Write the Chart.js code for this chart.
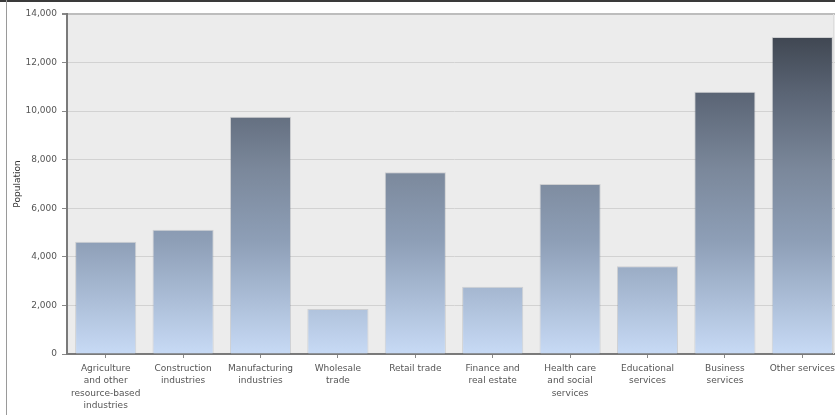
<!DOCTYPE html>
<html>
<head>
<meta charset="utf-8">
<script src="https://cdn.jsdelivr.net/npm/chart.js@4.4.0/dist/chart.umd.min.js"></script>
<style>
  html, body { margin: 0; padding: 0; background: #fff; overflow: hidden; }
  #frame {
    position: absolute; left: 0; top: 0; width: 835px; height: 415px;
    border-top: 2px solid #3a3a3a; box-sizing: border-box;
  }
  #leftline { position: absolute; left: 6px; top: 0; width: 1px; height: 415px; background: #9a9a9a; }
  #statsChart { position: absolute; left: 7px; top: 2px; }
</style>
</head>
<body>
<div id="frame"></div>
<div id="leftline"></div>
<canvas id="statsChart" width="836" height="413"></canvas>
<script>
// categories (multi-line labels as drawn under the axis)
const categories = [
    ['Agriculture', 'and other', 'resource-based', 'industries'],
    ['Construction', 'industries'],
    ['Manufacturing', 'industries'],
    ['Wholesale', 'trade'],
    ['Retail trade'],
    ['Finance and', 'real estate'],
    ['Health care', 'and social', 'services'],
    ['Educational', 'services'],
    ['Business', 'services'],
    ['Other services']
];
const population = [4620, 5120, 9770, 1850, 7480, 2770, 7000, 3610, 10800, 13050];
const yTicks = [0, 2000, 4000, 6000, 8000, 10000, 12000, 14000];
const yTitle = 'Population';

// gradient over the whole plot area, light blue at 0, dark slate at the top
function barGradient(context) {
    const chart = context.chart;
    const area = chart.chartArea;
    if (!area) return '#8fa0b8';
    const g = chart.ctx.createLinearGradient(0, area.bottom, 0, area.top);
    g.addColorStop(0, '#c7daf5');
    g.addColorStop(0.33, '#8e9fb7');
    g.addColorStop(0.55, '#7a879a');
    g.addColorStop(0.77, '#5a6474');
    g.addColorStop(1, '#353b44');
    return g;
}

const plotBg = {
    id: 'plotBg',
    beforeDraw(chart) {
        const a = chart.chartArea;
        const c = chart.ctx;
        c.save();
        c.fillStyle = '#ececec';
        c.fillRect(a.left, a.top, a.right - a.left, a.bottom - a.top);
        c.restore();
    },
    afterDraw(chart) {
        const a = chart.chartArea;
        const c = chart.ctx;
        c.save();
        c.strokeStyle = '#dedede';
        c.lineWidth = 1;
        c.beginPath();
        c.moveTo(826.5, a.top);
        c.lineTo(826.5, a.bottom);
        c.stroke();
        c.restore();
    }
};

const ctx = document.getElementById('statsChart').getContext('2d');
const statsChart = new Chart(ctx, {
    type: 'bar',
    data: {
        labels: categories,
        datasets: [{
            label: yTitle,
            data: population,
            backgroundColor: barGradient,
            borderColor: 'rgba(40, 50, 60, 0.15)',
            borderWidth: 1,
            borderSkipped: 'bottom',
            barPercentage: 0.79,
            categoryPercentage: 1
        }]
    },
    options: {
        responsive: false,
        animation: false,
        layout: { padding: { top: 12, right: 2, left: 0, bottom: 0 } },
        plugins: {
            legend: { display: false },
            tooltip: { enabled: false }
        },
        scales: {
            x: {
                offset: true,
                grid: {
                    offset: false,
                    drawOnChartArea: false,
                    drawTicks: true,
                    tickLength: 4,
                    color: '#888'
                },
                border: { color: '#7a7a7a', width: 2 },
                ticks: {
                    color: '#555',
                    padding: 4,
                    maxRotation: 0,
                    autoSkip: false,
                    font: { family: 'DejaVu Sans', size: 9, lineHeight: 1.4 }
                },
                afterFit(scale) { scale.height = 61; }
            },
            y: {
                min: 0,
                max: 14000,
                afterBuildTicks(scale) {
                    scale.ticks = yTicks.map(v => ({ value: v }));
                },
                grid: {
                    color: ctx => ctx.tick && ctx.tick.value === 14000 ? '#bdbdbd' : '#d2d2d2',
                    lineWidth: ctx => ctx.tick && ctx.tick.value === 14000 ? 2 : 1,
                    tickColor: '#888',
                    tickLength: 5
                },
                border: { color: '#7a7a7a', width: 2 },
                ticks: {
                    color: '#555',
                    padding: 5,
                    font: { family: 'DejaVu Sans', size: 9 },
                    callback: v => v.toLocaleString('en-US')
                },
                title: {
                    display: true,
                    text: yTitle,
                    color: '#333',
                    padding: { top: 5, bottom: 0 },
                    font: { family: 'DejaVu Sans', size: 9 }
                },
                afterFit(scale) { scale.width = 60; }
            }
        }
    },
    plugins: [plotBg]
});
</script>
</body>
</html>
